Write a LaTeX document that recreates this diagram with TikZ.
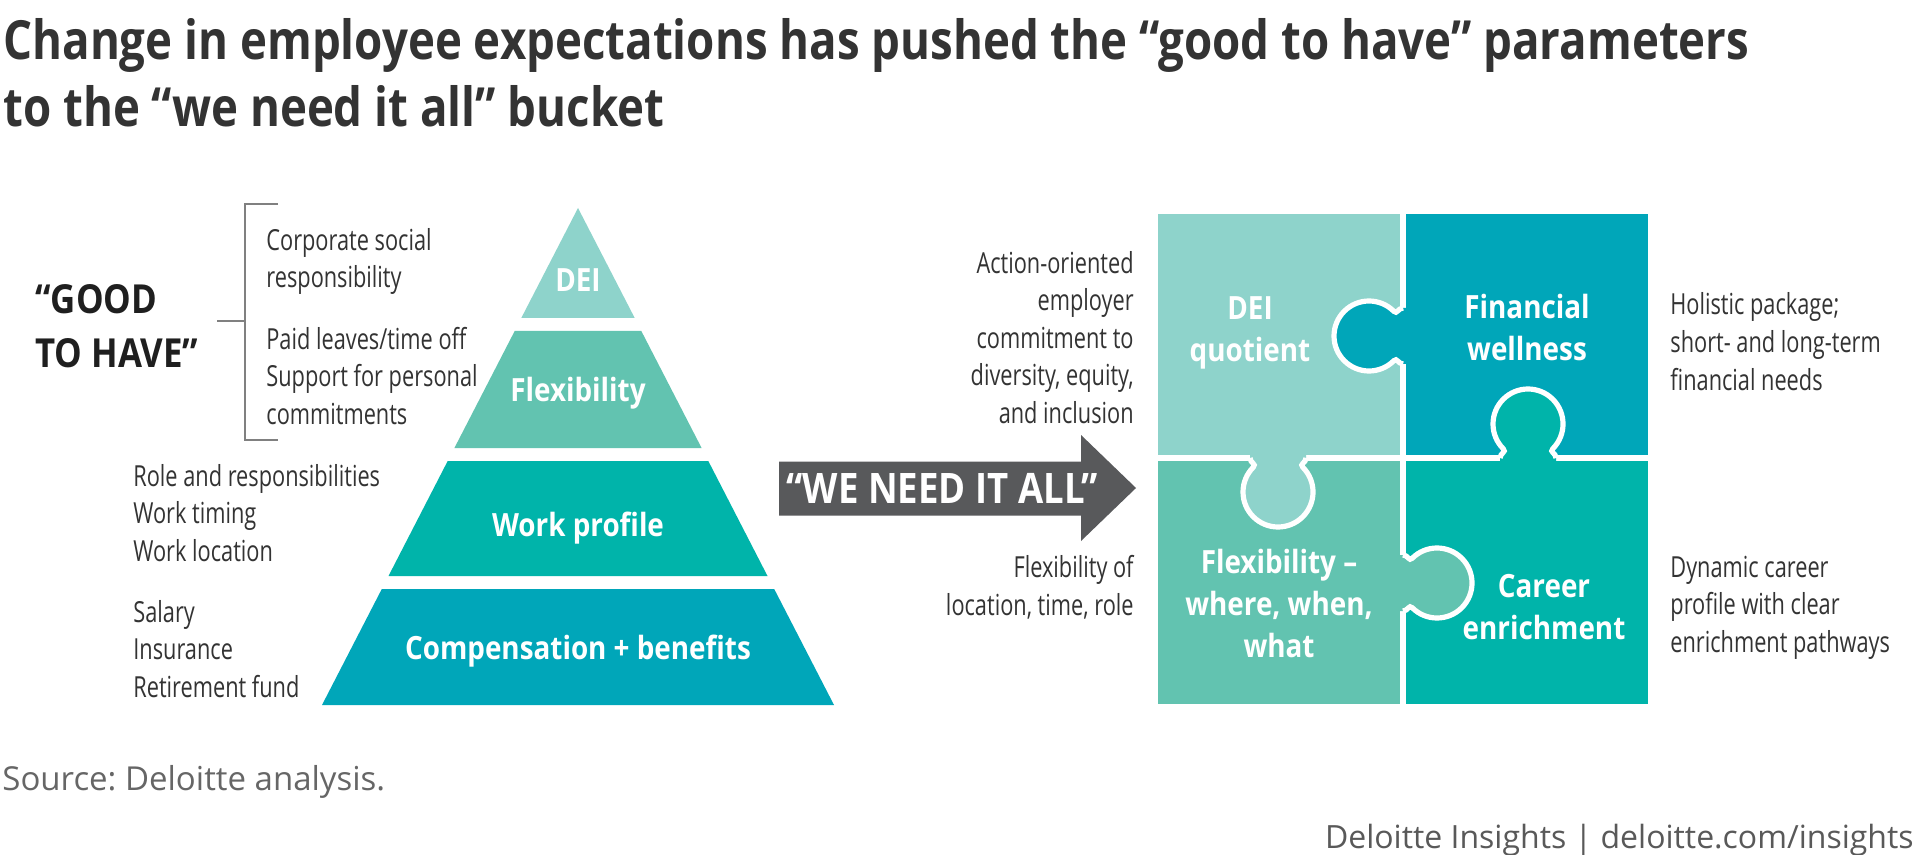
\documentclass[tikz,border=0pt]{standalone}
\usepackage{fontspec}
\setmainfont{Open Sans}[FakeStretch=0.75]
\newfontfamily\headfont{Open Sans}[FakeStretch=0.87]
\newfontfamily\titlefont{Open Sans}[FakeStretch=0.845]
\newfontfamily\notefont{Open Sans}
\frenchspacing
\definecolor{ink}{HTML}{333333}
\definecolor{mist}{HTML}{8ED3CB}
\definecolor{sage}{HTML}{62C3B0}
\definecolor{lagoon}{HTML}{00B4AA}
\definecolor{ocean}{HTML}{00A6B9}
\definecolor{slate}{HTML}{58595B}
\definecolor{rule}{HTML}{808080}

% one puzzle knob: base point on the seam, turn, colour of its piece
\newcommand\knob[3]{%
  \begin{scope}[shift={#1},rotate=#2]
    \fill[#3] (-8,-28) -- (0,-28)
      .. controls (5,-28) and (5.8,-21.2) .. (9.25,-24.75)
      arc[start angle=-135,end angle=135,radius=35]
      .. controls (5.8,21.2) and (5,28) .. (0,28) -- (-8,28) -- cycle;
    \draw[white,line width=2.6pt] (0,-28)
      .. controls (5,-28) and (5.8,-21.2) .. (9.25,-24.75)
      arc[start angle=-135,end angle=135,radius=35]
      .. controls (5.8,21.2) and (5,28) .. (0,28);
  \end{scope}}

\begin{document}
\begin{tikzpicture}[x=0.5pt,y=-0.5pt,text=ink,
  side/.style={font=\fontsize{14.5}{18.75}\selectfont,inner sep=0pt},
  layer/.style={font=\headfont\bfseries\fontsize{16}{21}\selectfont,
    text=white,inner sep=0pt,align=center}]
  \useasboundingbox[fill=white] (0,0) rectangle (1920,855);

  \node[anchor=base west,inner sep=0pt,align=left,
    font=\titlefont\bfseries\fontsize{27}{33.5}\selectfont] (title) at (3,127)
    {Change in employee expectations has pushed the “good to have” parameters\\
     to the “we need it all” bucket};

  % pyramid
  \fill[mist] (578,208) -- (634.7,318) -- (521.3,318) -- cycle;
  \fill[sage] (514.7,331) -- (641.3,331) -- (701.6,448) -- (454.4,448) -- cycle;
  \fill[lagoon] (447.7,461) -- (708.3,461) -- (767.5,576) -- (388.5,576) -- cycle;
  \fill[ocean] (381.8,589) -- (774.2,589) -- (834,705) -- (322,705) -- cycle;
  \node[layer,anchor=base] (dei) at (578,292) {DEI};
  \node[layer,anchor=base] (flex) at (578,401) {Flexibility};
  \node[layer,anchor=base] (work) at (578,536) {Work profile};
  \node[layer,anchor=base] (comp) at (578,659) {Compensation + benefits};

  \node[anchor=base west,inner sep=0pt,align=left,text=black!88,
    font=\headfont\bfseries\fontsize{20}{27}\selectfont] (good) at (35,367)
    {“GOOD\\TO HAVE”};
  \draw[rule,line width=1pt] (278,204) -| (245,440) -- (278,440);
  \draw[rule,line width=1pt] (217,321) -- (245,321);

  \node[side,anchor=base west,align=left] (csr) at (266,288)
    {Corporate social\\responsibility};
  \node[side,anchor=base west,align=left] (leave) at (266,424)
    {Paid leaves/time off\\Support for personal\\commitments};
  \node[side,anchor=base west,align=left] (role) at (133,561)
    {Role and responsibilities\\Work timing\\Work location};
  \node[side,anchor=base west,align=left] (pay) at (133,697)
    {Salary\\Insurance\\Retirement fund};

  % arrow
  \fill[slate] (779,461.5) -- (1081,461.5) -- (1081,435) -- (1136,488)
    -- (1081,541) -- (1081,515.5) -- (779,515.5) -- cycle;
  \node[inner sep=0pt,text=white,
    font=\headfont\bfseries\fontsize{21}{24}\selectfont] (need) at (942,488)
    {“WE NEED IT ALL”};
  \node[side,anchor=base east,align=right] (act) at (1134,423)
    {Action-oriented\\employer\\commitment to\\diversity, equity,\\and inclusion};
  \node[side,anchor=base east,align=right] (flexnote) at (1134,615)
    {Flexibility of\\location, time, role};

  % puzzle
  \fill[mist] (1158,214) rectangle (1403,458);
  \fill[ocean] (1403,214) rectangle (1648,458);
  \fill[sage] (1158,458) rectangle (1403,704);
  \fill[lagoon] (1403,458) rectangle (1648,704);
  \draw[white,line width=3.25pt] (1403,214) -- (1403,704);
  \draw[white,line width=3.25pt] (1158,458) -- (1648,458);
  \knob{(1403,336)}{180}{ocean}
  \knob{(1278,458)}{-90}{mist}
  \knob{(1528,458)}{90}{lagoon}
  \knob{(1403,583)}{0}{sage}
  \node[layer,anchor=base] (quot) at (1250,362) {DEI\\quotient};
  \node[layer,anchor=base] (wealth) at (1527,361) {Financial\\wellness};
  \node[layer,anchor=base] (where) at (1279,657) {Flexibility –\\where, when,\\what};
  \node[layer,anchor=base] (career) at (1544,639) {Career\\enrichment};

  \node[side,anchor=base west,align=left] (fin) at (1670,390)
    {Holistic package;\\short- and long-term\\financial needs};
  \node[side,anchor=base west,align=left] (car) at (1670,652)
    {Dynamic career\\profile with clear\\enrichment pathways};

  \node[anchor=base west,inner sep=0pt,text=black!60,
    font=\notefont\fontsize{16.5}{19}\selectfont] (src) at (2,790)
    {Source: Deloitte analysis.};
  \node[anchor=base east,inner sep=0pt,text=black!65,
    font=\notefont\fontsize{16}{20}\selectfont] (foot) at (1914,848)
    {Deloitte Insights | deloitte.com/insights};
\end{tikzpicture}
\end{document}
